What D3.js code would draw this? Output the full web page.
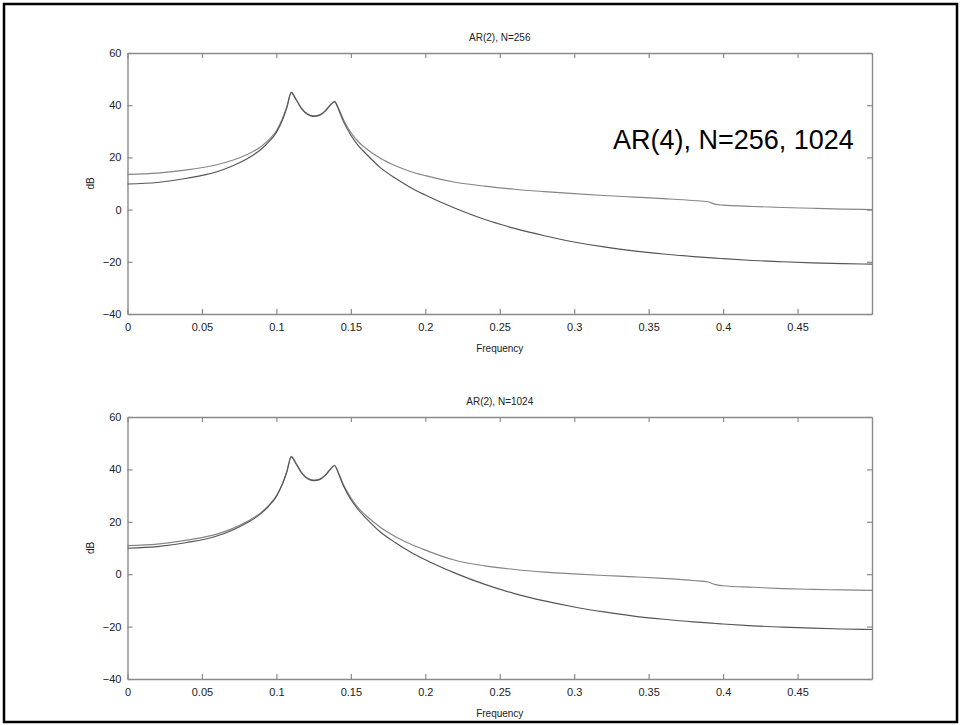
<!DOCTYPE html>
<html>
<head>
<meta charset="utf-8">
<script src="https://cdn.jsdelivr.net/npm/d3@7"></script>
<style>
  body { margin: 0; background: #fff; }
  svg { display: block; font-family: "Liberation Sans", Arial, Helvetica, sans-serif; }
</style>
</head>
<body>
<div class="canvas"></div>
<script>
// frequency grid (cycles/sample) shared by all curves
const freq = [0, 0.02, 0.04, 0.06, 0.07, 0.08, 0.09, 0.095, 0.1, 0.104, 0.107, 0.11, 0.113, 0.117, 0.121,
  0.125, 0.129, 0.133, 0.136, 0.139, 0.142, 0.145, 0.15, 0.155, 0.16, 0.17, 0.18, 0.19, 0.2, 0.22,
  0.24, 0.26, 0.28, 0.3, 0.32, 0.34, 0.36, 0.38, 0.39, 0.395, 0.4, 0.42, 0.44, 0.46, 0.48, 0.5];

// N=256: AR(2) estimate and AR(4) spectrum (dB)
const ar2N256 = [13.5, 14.0, 15.2, 17.2, 18.8, 21.0, 24.3, 26.8, 30.2, 34.8, 39.5, 45.0, 42.5, 38.8, 36.6,
  35.9, 36.3, 38.0, 40.0, 41.5, 38.5, 34.5, 29.5, 26.0, 23.5, 19.6, 16.8, 14.6, 13.0, 10.5,
  9.0, 7.8, 6.9, 6.1, 5.4, 4.8, 4.2, 3.5, 3.0, 2.0, 1.7, 1.2, 0.8, 0.5, 0.2, 0.0];
const ar4N256 = [9.8, 10.4, 12.0, 14.5, 16.6, 19.4, 23.2, 26.0, 29.6, 34.2, 39.0, 44.8, 42.3, 38.6, 36.4,
  35.7, 36.1, 37.8, 39.8, 41.3, 38.0, 33.8, 28.5, 24.5, 21.5, 16.0, 12.0, 8.5, 5.6, 0.5,
  -3.8, -7.2, -10.0, -12.4, -14.3, -15.8, -17.0, -18.0, -18.4, -18.6, -18.8, -19.5, -20.0, -20.4, -20.7, -20.9];

// N=1024
const ar2N1024 = [10.9, 11.5, 13.0, 15.3, 17.3, 20.0, 23.7, 26.4, 29.9, 34.5, 39.2, 45.0, 42.5, 38.8, 36.6,
  35.9, 36.3, 38.0, 40.0, 41.6, 38.3, 34.2, 29.2, 25.3, 22.5, 17.8, 14.3, 11.5, 9.2, 5.3,
  3.2, 1.8, 0.8, 0.1, -0.5, -1.0, -1.6, -2.4, -3.0, -4.0, -4.4, -5.0, -5.5, -5.8, -6.0, -6.2];
const ar4N1024 = [9.9, 10.5, 12.1, 14.6, 16.7, 19.5, 23.3, 26.1, 29.7, 34.3, 39.0, 44.8, 42.3, 38.6, 36.4,
  35.7, 36.1, 37.8, 39.8, 41.4, 38.0, 33.8, 28.5, 24.6, 21.5, 16.0, 12.0, 8.5, 5.5, 0.4,
  -3.9, -7.4, -10.2, -12.5, -14.4, -16.0, -17.2, -18.2, -18.6, -18.8, -19.0, -19.7, -20.2, -20.6, -20.9, -21.1];

// ticks
const xTicks = [0, 0.05, 0.1, 0.15, 0.2, 0.25, 0.3, 0.35, 0.4, 0.45];
const yTicks = [-40, -20, 0, 20, 40, 60];

const titles = ['AR(2), N=256', 'AR(2), N=1024'];
const note = 'AR(4), N=256, 1024';

const W = 961, H = 725;
const svg = d3.select('.canvas').append('svg')
  .attr('width', W).attr('height', H);

// outer frame
svg.append('rect')
  .attr('x', 4).attr('y', 4).attr('width', W - 8).attr('height', H - 7)
  .attr('fill', 'none').attr('stroke', '#000').attr('stroke-width', 2.5);

const left = 127.5, right = 872;
const x = d3.scaleLinear().domain([0, 0.5]).range([left, right]);

const panels = [
  { top: 53, bottom: 314, title: titles[0], series: [ar2N256, ar4N256] },
  { top: 417, bottom: 679, title: titles[1], series: [ar2N1024, ar4N1024] }
];

const lineColors = ['#858585', '#555'];
const axisColor = '#8a8a8a';

panels.forEach(p => {
  const y = d3.scaleLinear().domain([-40, 60]).range([p.bottom, p.top]);
  const g = svg.append('g');

  // axes: ticks point inward on all four sides
  const fmt = d => String(+d.toFixed(2));
  g.append('g').attr('transform', `translate(0,${p.bottom})`)
    .call(d3.axisBottom(x).tickValues(xTicks).tickFormat(fmt).tickSizeInner(-5).tickSizeOuter(0).tickPadding(9));
  g.append('g').attr('transform', `translate(0,${p.top})`)
    .call(d3.axisTop(x).tickValues(xTicks).tickFormat('').tickSizeInner(-5).tickSizeOuter(0));
  g.append('g').attr('transform', `translate(${left},0)`)
    .call(d3.axisLeft(y).tickValues(yTicks).tickSizeInner(-5).tickSizeOuter(0).tickPadding(6));
  g.append('g').attr('transform', `translate(${right},0)`)
    .call(d3.axisRight(y).tickValues(yTicks).tickFormat('').tickSizeInner(-5).tickSizeOuter(0));

  g.selectAll('.domain').attr('stroke', axisColor).attr('stroke-width', 1.4);
  g.selectAll('.tick line').attr('stroke', axisColor).attr('stroke-width', 1.2);
  g.selectAll('.tick text').attr('fill', '#222').style('font-size', '11px');

  // curves
  const line = d3.line()
    .x((d, i) => x(freq[i]))
    .y(d => y(d))
    .curve(d3.curveMonotoneX);

  g.selectAll('path.curve')
    .data(p.series)
    .enter()
    .append('path')
    .attr('class', 'curve')
    .attr('d', line)
    .attr('fill', 'none')
    .attr('stroke', (d, i) => lineColors[i])
    .attr('stroke-width', 1.15);

  // title and labels
  g.append('text')
    .attr('x', (left + right) / 2).attr('y', p.top - 12)
    .attr('text-anchor', 'middle')
    .style('font-size', '10px').attr('fill', '#222')
    .text(p.title);

  g.append('text')
    .attr('x', (left + right) / 2).attr('y', p.bottom + 38)
    .attr('text-anchor', 'middle')
    .style('font-size', '10px').attr('fill', '#222')
    .text('Frequency');

  g.append('text')
    .attr('transform', `translate(94,${(p.top + p.bottom) / 2}) rotate(-90)`)
    .attr('text-anchor', 'middle')
    .style('font-size', '10px').attr('fill', '#222')
    .text('dB');
});

// annotation in the top panel
svg.append('text')
  .attr('x', 613).attr('y', 149)
  .style('font-size', '27px').attr('fill', '#000')
  .text(note);
</script>
</body>
</html>
